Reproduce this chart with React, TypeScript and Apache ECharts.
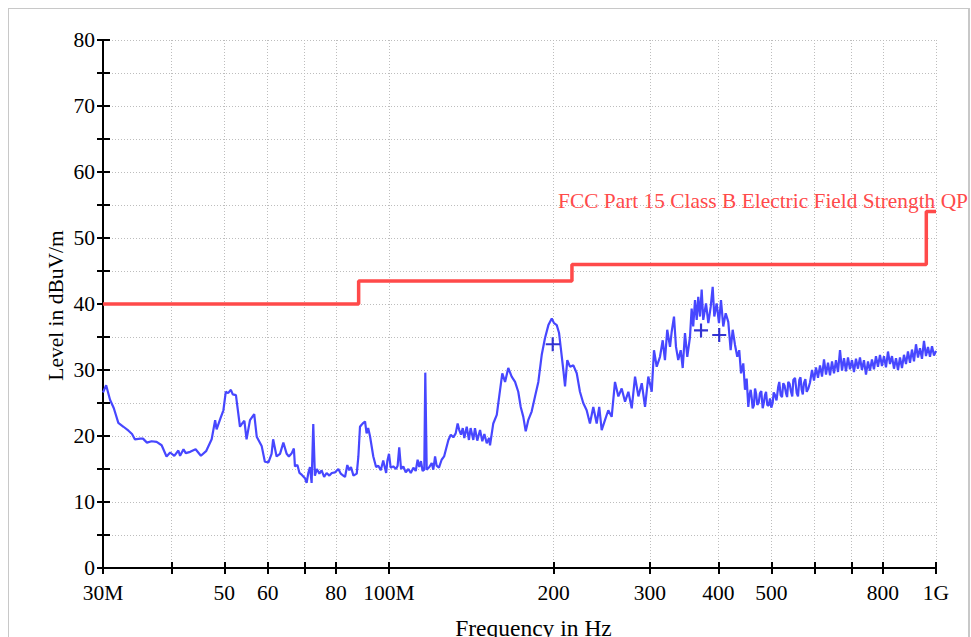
import React, { useEffect, useRef } from "react";
import * as echarts from "echarts";

// Measured trace (frequency in MHz, level in dBuV/m)
const traceFreqMHz = [
  30.0, 30.4, 30.9, 31.4, 32.0, 32.7, 33.4, 33.9, 34.3, 35.1, 35.5, 36.1, 36.8, 37.6, 38.4, 39.2, 39.8,
  40.5, 41.2, 41.5, 42.1, 42.5, 43.3, 44.3, 45.3, 46.3, 47.4, 48.1, 48.4, 49.2, 49.8, 50.3, 50.8, 51.4,
  51.8, 52.5, 53.4, 53.9, 54.4, 54.9, 55.7, 56.7, 57.3, 58.5, 59.3, 60.2, 61.0, 61.4, 62.3, 63.2, 64.1,
  65.0, 65.6, 66.4, 67.0, 67.3, 68.0, 68.6,
  69.3, 70.2, 70.7, 71.2, 71.7, 72.2, 72.7, 73.2, 73.8, 74.6, 75.3, 76.1, 76.9, 77.8, 78.6, 79.7, 80.8,
  81.6, 82.5, 83.1, 83.9, 84.6, 85.2, 86.1, 87.3, 87.9, 88.5, 89.1, 89.8, 90.4, 91.0, 91.6, 92.3, 93.6,
  94.7, 95.6, 96.6, 97.6, 98.8, 99.3, 100.0, 100.7, 101.8, 103.0, 103.7, 104.4, 105.2, 106.2, 107.3,
  108.5, 109.6, 110.8, 111.9, 112.8, 113.6, 114.4, 115.2, 116.0, 116.5, 117.2, 118.5, 119.7, 120.5,
  121.4, 122.2, 123.4, 124.8, 126.1, 127.1, 128.4, 129.7, 131.1, 132.4, 133.5, 134.4, 135.4, 136.4,
  137.3, 138.7, 140.0, 141.0, 142.6, 143.6, 145.0, 146.7, 148.1, 149.4, 150.9, 152.4, 153.0,
  155.1, 157.4, 159.6, 161.1, 163.0, 165.2, 167.6, 170.0, 172.3, 174.1, 176.0, 177.8, 179.7, 182.3,
  184.9, 187.5, 190.2, 192.8, 195.6, 198.4, 200.3, 202.6, 204.6, 206.3, 208.3, 209.8, 211.8, 214.2,
  217.3, 220.4, 223.4, 226.5, 229.8, 233.0, 236.3, 239.7, 242.3, 244.8, 248.2, 251.7, 255.3, 258.9,
  262.6, 266.3, 270.1, 273.9, 277.8, 281.7, 285.7, 289.8, 293.8, 297.9, 302.2, 305.1, 308.6, 312.9,
  316.5, 319.5, 322.6, 326.4, 328.7, 331.9, 334.7, 337.9, 341.4, 344.3, 347.6, 351.0, 355.0, 357.5,
  359.9, 362.6, 365.2, 367.6, 370.3, 372.9, 375.4, 379.8, 383.5, 387.4, 390.6, 393.3, 397.2, 401.1,
  404.5, 408.4, 412.6, 417.1, 421.3, 424.9, 429.1, 433.2, 436.8, 440.1, 444.3, 447.5, 450.7, 453.8,
  456.0, 458.4, 460.3, 462.2, 464.5, 466.8, 469.0, 471.3, 474.0, 476.6, 479.3, 482.1, 484.4, 486.8,
  489.0, 491.5, 494.3, 497.2, 499.9, 502.8, 505.0, 507.7, 511.0, 514.8, 517.0, 520.0, 523.0, 525.8,
  528.8, 531.8, 534.3, 536.9, 540.0, 543.2, 546.0, 548.5, 552.4, 556.4, 559.4, 562.5, 565.3, 568.1,
  570.8, 573.6, 577.0, 580.3, 584.3,
  588.4, 593.4, 598.4, 603.4, 608.5, 613.7, 618.9, 624.1, 629.4, 634.7, 640.1, 645.5, 650.9, 656.4,
  662.0, 667.6, 673.2, 678.9, 684.6, 690.4, 696.2, 702.1, 708.0, 714.0, 720.0, 726.1, 732.2, 738.4,
  744.7, 751.0, 757.3, 763.7, 770.2, 776.7, 783.3, 789.9, 796.6, 803.3, 810.1, 817.0, 823.9, 830.8,
  837.9, 845.0, 852.1, 859.3, 866.6, 873.9, 881.3, 888.7, 896.3, 903.8, 911.5, 919.2, 927.0, 934.8,
  942.7, 950.7, 958.7, 966.8, 975.0, 983.3, 991.6, 1000.0,
];

const traceLevel = [
  26.6, 27.7, 25.5, 24.2, 22.0, 21.4, 20.8, 20.3, 19.5, 19.6, 19.6, 19.0, 19.2, 19.1, 18.6, 16.9, 17.5,
  17.0, 17.8, 17.0, 18.0, 17.4, 17.6, 18.0, 17.0, 17.7, 19.5, 22.4, 21.0, 22.7, 23.9, 26.7, 26.5, 27.0,
  26.3, 26.2, 21.4, 21.9, 22.3, 19.5, 22.4, 23.3, 19.9, 18.5, 16.1, 16.0, 17.3, 19.5, 16.9, 17.3, 19.0,
  17.3, 16.9, 17.4, 18.1, 15.4, 15.6, 14.4,
  14.1, 13.6, 12.9, 14.4, 15.3, 12.9, 21.8, 14.0, 15.0, 14.3, 14.8, 13.8, 14.4, 14.0, 14.4, 14.5, 15.0,
  14.3, 14.0, 13.8, 15.6, 14.8, 15.3, 14.0, 14.3, 16.9, 21.4, 21.7, 22.0, 22.2, 20.4, 21.2, 20.0, 16.9,
  15.3, 15.5, 14.8, 16.3, 14.4, 16.2, 17.3, 15.2, 15.4, 15.0, 15.5, 18.3, 15.0, 15.4, 14.5,
  15.0, 14.4, 15.2, 14.7, 16.4, 15.3, 16.2, 14.7, 14.9, 29.6, 14.9, 15.3, 15.9, 14.9,
  16.9, 15.5, 15.2, 16.4, 16.9, 18.0, 19.4, 20.2, 19.8, 20.4, 21.9, 20.9, 20.2, 21.2,
  19.7, 21.4, 19.4, 21.2, 19.4, 21.2, 19.3, 20.9, 19.2, 20.3, 18.9, 19.7, 18.6,
  21.9, 23.2, 27.0, 29.5, 28.2, 30.3, 29.0, 28.2, 26.7, 24.4, 22.9, 20.7, 22.4, 23.7,
  26.0, 28.2, 32.3, 34.8, 36.8, 37.8, 37.1, 36.8, 35.6, 33.0, 30.0, 27.5, 31.5, 30.5,
  30.7, 29.5, 26.7, 25.0, 23.9, 21.9, 24.4, 21.9, 24.4, 20.9, 22.4, 23.9, 22.9, 28.2,
  26.0, 27.2, 25.2, 26.7, 24.2, 29.0, 26.0, 28.0, 24.4, 29.0, 26.7, 33.0, 30.5, 32.0,
  34.5, 31.5, 36.1, 33.5, 35.8, 38.1, 33.5, 31.5, 33.0, 30.3, 35.6, 32.0, 35.0, 39.3,
  36.6, 40.6, 37.6, 41.1, 38.1, 42.2, 37.6, 40.1, 37.1, 39.6, 42.6, 38.1, 40.1, 37.1,
  40.6, 36.6, 38.6, 37.3, 33.0, 36.1, 33.8, 32.0, 33.0, 29.5, 31.0, 27.0, 28.7, 24.4,
  26.2, 27.0, 25.8, 24.2, 24.6, 27.2, 26.4, 24.7, 25.0, 26.5, 26.8, 24.2, 25.0, 26.2,
  26.7, 24.7, 24.6, 25.7, 24.3, 25.0, 26.6, 26.2, 25.4, 27.5, 28.2, 26.2, 25.9, 28.0,
  27.6, 26.5, 25.9, 28.2, 27.9, 26.7, 26.0, 28.5, 28.8, 26.5, 26.0, 28.5, 28.9, 27.0,
  26.3, 28.0, 28.6, 26.7, 27.2,
  28.1, 30.0, 28.4, 30.4, 28.8, 30.7, 29.0, 31.6, 29.3, 31.1, 29.2, 31.3, 29.5, 31.5,
  29.7, 33.0, 29.9, 31.8, 29.8, 31.9, 30.1, 31.5, 29.7, 31.7, 30.2, 31.9, 30.0, 31.5,
  29.3, 31.3, 29.9, 31.6, 30.1, 32.1, 30.5, 32.3, 30.6, 32.1, 30.4, 32.8, 30.9, 32.1,
  30.2, 31.8, 30.0, 31.9, 30.3, 32.3, 30.9, 32.8, 31.1, 33.1, 31.3, 33.9, 31.9, 33.3,
  31.7, 34.4, 32.1, 33.5, 32.0, 33.6, 32.2, 32.9,
];

// FCC Part 15 Class B limit (step at each listed frequency)
const limitFreqMHz = [30, 88, 216, 960, 1000];
const limitLevel = [40, 43.5, 46, 54, 54];
const limitName = "FCC Part 15 Class B Electric Field Strength QP";

// Final measurement markers
const markerFreqMHz = [199.2, 371.9, 401.5];
const markerLevel = [33.9, 36.0, 35.3];

// Axis ticks
const xTickFreqs = [30, 40, 50, 60, 70, 80, 100, 200, 300, 400, 500, 600, 700, 800, 1000];
const xLabelFreqs = [30, 50, 60, 80, 100, 200, 300, 400, 500, 800, 1000];
const xLabelTexts = ["30M", "50", "60", "80", "100M", "200", "300", "400", "500", "800", "1G"];
const yMin = 0;
const yMax = 80;
const yStep = 5;

const FONT = '"Liberation Serif", "Times New Roman", serif';

export default function App() {
  const ref = useRef<HTMLDivElement>(null);

  useEffect(() => {
    const el = ref.current;
    if (!el) return;
    const chart = echarts.init(el, null, { renderer: "svg" });

    const lg = (f: number) => Math.log10(f);
    const xMin = lg(xTickFreqs[0]);
    const xMax = lg(xTickFreqs[xTickFreqs.length - 1]);
    const tickVals = xTickFreqs.map(lg);
    const labelVals = xLabelFreqs.map(lg);
    const labelFor = (v: number) => {
      const f = Math.pow(10, v);
      let best = "";
      let bd = Infinity;
      xLabelFreqs.forEach((lf, i) => {
        const d = Math.abs(lf - f) / lf;
        if (d < bd) {
          bd = d;
          best = xLabelTexts[i];
        }
      });
      return bd < 0.01 ? best : "";
    };

    const trace = traceFreqMHz.map((f, i) => [lg(f), traceLevel[i]]);
    const limit = limitFreqMHz.map((f, i) => [lg(f), limitLevel[i]]);
    const markers = markerFreqMHz.map((f, i) => [lg(f), markerLevel[i]]);

    const axisLineStyle = { color: "#000", width: 2 };

    chart.setOption({
      animation: false,
      backgroundColor: "#fff",
      grid: { left: 94, top: 31, width: 833, height: 528, containLabel: false },
      xAxis: [
        {
          type: "value",
          min: xMin,
          max: xMax,
          position: "bottom",
          axisLine: { show: true, onZero: false, lineStyle: axisLineStyle },
          axisTick: { show: true, inside: false, length: 6, customValues: tickVals, lineStyle: axisLineStyle },
          axisLabel: {
            show: true,
            customValues: labelVals,
            formatter: (v: number) => labelFor(v),
            margin: 14,
            color: "#000",
            fontFamily: FONT,
            fontSize: 21.5,
          },
          splitLine: { show: true, lineStyle: { color: "#bdbdbd", width: 1, type: [1, 2] } },
        },
        {
          type: "value",
          min: xMin,
          max: xMax,
          position: "bottom",
          axisLine: { show: false, onZero: false },
          axisTick: { show: true, inside: true, length: 6, customValues: tickVals, lineStyle: axisLineStyle },
          axisLabel: { show: false },
          splitLine: { show: false },
        },
      ],
      yAxis: [
        {
          type: "value",
          min: yMin,
          max: yMax,
          interval: yStep,
          position: "left",
          axisLine: { show: true, onZero: false, lineStyle: axisLineStyle },
          axisTick: { show: true, inside: false, length: 6, lineStyle: axisLineStyle },
          axisLabel: {
            formatter: (v: number) => (v % 10 === 0 ? String(v) : ""),
            margin: 8,
            color: "#000",
            fontFamily: FONT,
            fontSize: 21.5,
          },
          splitLine: { show: true, lineStyle: { color: "#bdbdbd", width: 1, type: [1, 2] } },
        },
        {
          type: "value",
          min: yMin,
          max: yMax,
          interval: yStep,
          position: "left",
          axisLine: { show: false, onZero: false },
          axisTick: { show: true, inside: true, length: 7, lineStyle: axisLineStyle },
          axisLabel: { show: false },
          splitLine: { show: false },
        },
      ],
      series: [
        {
          name: limitName,
          type: "line",
          step: "end",
          data: limit,
          showSymbol: false,
          lineStyle: { color: "#ff4a4a", width: 3.5 },
          itemStyle: { color: "#ff4a4a" },
          z: 3,
        },
        {
          name: "Trace",
          type: "line",
          data: trace,
          showSymbol: false,
          lineStyle: { color: "#4747ff", width: 2.2 },
          itemStyle: { color: "#4747ff" },
          z: 4,
        },
        {
          name: "Final",
          type: "scatter",
          data: markers,
          symbol: "path://M6,0h2.2v6h6v2.2h-6v6h-2.2v-6h-6v-2.2h6z",
          symbolSize: 14,
          itemStyle: { color: "#0000c8" },
          z: 5,
        },
      ],
      graphic: [
        {
          type: "text",
          x: 959,
          y: 192,
          style: {
            text: limitName,
            fill: "#ff4a4a",
            font: `21.4px ${FONT}`,
            align: "right",
            verticalAlign: "middle",
          },
          z: 10,
        },
        {
          type: "text",
          x: 46.5,
          y: 296.5,
          rotation: Math.PI / 2,
          style: {
            text: "Level in dBuV/m",
            fill: "#000",
            font: `21.5px ${FONT}`,
            align: "center",
            verticalAlign: "middle",
          },
        },
        {
          type: "text",
          x: 524.5,
          y: 619,
          style: {
            text: "Frequency in Hz",
            fill: "#000",
            font: `23.5px ${FONT}`,
            align: "center",
            verticalAlign: "middle",
          },
        },
      ],
    });

    return () => chart.dispose();
  }, []);

  return (
    <div
      ref={ref}
      style={{
        position: "fixed",
        left: 8,
        top: 8,
        width: 959,
        height: 629,
        borderTop: "1px solid #c8c8c8",
        borderLeft: "1px solid #c8c8c8",
        borderRight: "2px solid #c8c8c8",
        background: "#fff",
      }}
    />
  );
}
